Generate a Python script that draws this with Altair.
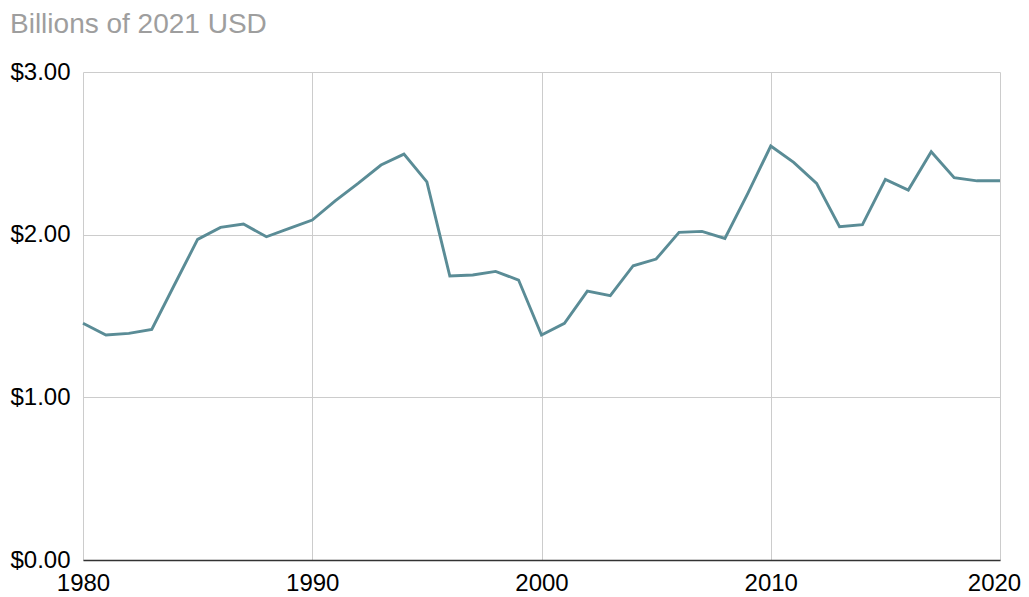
import altair as alt
import pandas as pd

years = list(range(1980, 2021))
values = [1.455, 1.383, 1.393, 1.418, 1.695, 1.971, 2.045, 2.065, 1.987, 2.039,
          2.090, 2.208, 2.315, 2.428, 2.495, 2.325, 1.746, 1.752, 1.774, 1.721,
          1.383, 1.455, 1.653, 1.625, 1.809, 1.850, 2.014, 2.020, 1.977, 2.254,
          2.545, 2.444, 2.315, 2.049, 2.061, 2.340, 2.274, 2.510, 2.350, 2.331,
          2.331]
x_ticks = [1980, 1990, 2000, 2010, 2020]
y_ticks = [0, 1, 2, 3]
title_text = ["Billions of 2021 USD"]

df = pd.DataFrame({"year": years, "value": values})
title_df = pd.DataFrame({"t": title_text})

FONT = "Liberation Sans"

line = alt.Chart(df).mark_line(color="#5a8c96", strokeWidth=2.9).encode(
    x=alt.X("year:Q",
            scale=alt.Scale(domain=[1980, 2020], nice=False, zero=False),
            axis=alt.Axis(values=x_ticks, format="d", title=None, ticks=False,
                          labelPadding=11, labelFontSize=24, labelFont=FONT,
                          labelColor="#000000", domainColor="#333333",
                          domainWidth=1.5, gridColor="#cccccc", gridWidth=1,
                          labelFlush=False,
                          labelOffset=alt.expr("datum.value == 2020 ? -6 : 0"))),
    y=alt.Y("value:Q",
            scale=alt.Scale(domain=[0, 3], nice=False),
            axis=alt.Axis(values=y_ticks, format="$.2f", title=None, ticks=False,
                          domain=False, labelAlign="left", labelPadding=73,
                          labelFontSize=24, labelFont=FONT, labelColor="#000000",
                          gridColor="#cccccc", gridWidth=1)),
)

title = alt.Chart(title_df).mark_text(
    align="left", baseline="alphabetic", fontSize=28, font=FONT,
    color="#9e9e9e"
).encode(text="t:N", x=alt.value(-73), y=alt.value(-39))

chart = alt.layer(line, title).properties(
    width=917,
    height=488,
    autosize=alt.AutoSizeParams(type="none"),
    padding={"left": 75, "top": 64, "right": 21, "bottom": 35},
).configure_view(stroke=None)

chart.save("out.html", embed_options={"renderer": "svg", "actions": False})
